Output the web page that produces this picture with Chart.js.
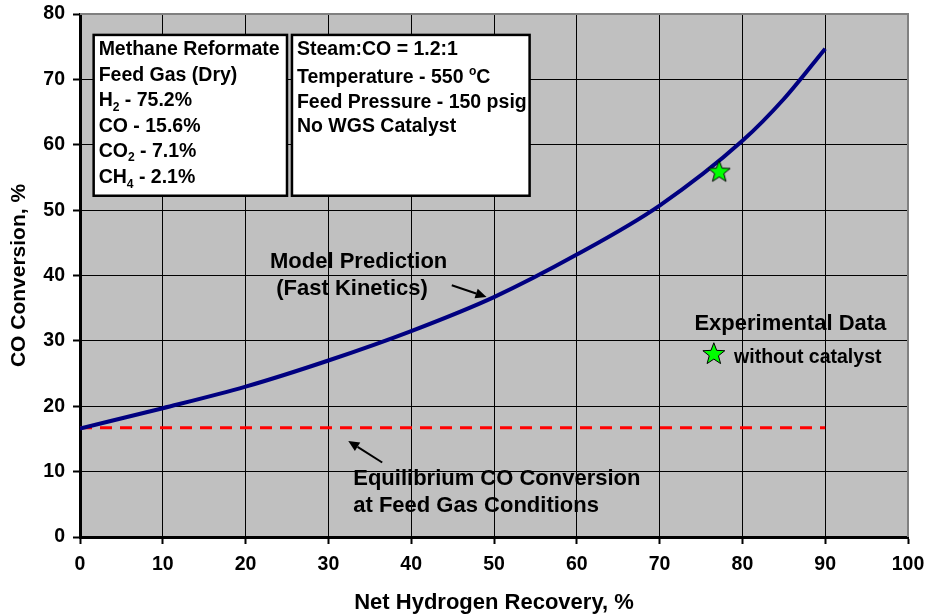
<!DOCTYPE html>
<html>
<head>
<meta charset="utf-8">
<script src="https://cdn.jsdelivr.net/npm/chart.js@4.4.1/dist/chart.umd.min.js"></script>
<style>
  html, body { margin: 0; padding: 0; background: #ffffff; }
  #wrap { width: 927px; height: 616px; }
</style>
</head>
<body>
<div id="wrap"><canvas id="chart" width="927" height="616"></canvas></div>
<script>
// Model prediction (fast kinetics): CO conversion vs net hydrogen recovery
const modelRecovery   = [0, 10, 20, 30, 40, 50, 60, 70, 80, 85, 90];
const modelConversion = [16.6, 19.7, 23.0, 27.0, 31.5, 36.7, 43.2, 50.7, 60.6, 67.0, 74.7];

// Equilibrium CO conversion at feed gas conditions
const equilibriumRecovery   = [0, 90];
const equilibriumConversion = [16.7, 16.7];

// Experimental point, without catalyst
const experimentRecovery   = [77.2];
const experimentConversion = [55.9];

// Axis ticks
const xTicks = [0, 10, 20, 30, 40, 50, 60, 70, 80, 90, 100];
const yTicks = [0, 10, 20, 30, 40, 50, 60, 70, 80];

const FONT = '"Liberation Sans", Arial, Helvetica, sans-serif';

function toPoints(xs, ys) {
  return xs.map((x, i) => ({ x: x, y: ys[i] }));
}

// five-pointed star
function starPath(ctx, cx, cy, R, r) {
  ctx.beginPath();
  for (let i = 0; i < 10; i++) {
    const rad = i % 2 === 0 ? R : r;
    const a = -Math.PI / 2 + i * Math.PI / 5;
    const px = cx + rad * Math.cos(a);
    const py = cy + rad * Math.sin(a);
    if (i === 0) ctx.moveTo(px, py); else ctx.lineTo(px, py);
  }
  ctx.closePath();
}
function drawStar(ctx, cx, cy, R) {
  ctx.save();
  starPath(ctx, cx, cy, R, R * 0.42);
  ctx.fillStyle = '#00ff00';
  ctx.fill();
  ctx.lineWidth = 1;
  ctx.strokeStyle = '#000000';
  ctx.stroke();
  ctx.restore();
}
const STAR_R = 11.5;
const starImg = document.createElement('canvas');
starImg.width = 28; starImg.height = 28;
drawStar(starImg.getContext('2d'), 14, 14.5, STAR_R);

// text with sub/superscript runs
function drawRich(ctx, x, y, parts, size) {
  let cx = x;
  parts.forEach(p => {
    const small = p.sub || p.sup;
    const s = small ? size * 0.62 : size;
    ctx.font = 'bold ' + s + 'px ' + FONT;
    const dy = p.sub ? size * 0.25 : (p.sup ? -size * 0.42 : 0);
    ctx.fillText(p.t, cx, y + dy);
    cx += ctx.measureText(p.t).width;
  });
}

function arrow(ctx, x1, y1, x2, y2) {
  const ang = Math.atan2(y2 - y1, x2 - x1);
  const hl = 11, hw = 5;
  const bx = x2 - hl * Math.cos(ang), by = y2 - hl * Math.sin(ang);
  ctx.save();
  ctx.strokeStyle = '#000';
  ctx.fillStyle = '#000';
  ctx.lineWidth = 2;
  ctx.beginPath();
  ctx.moveTo(x1, y1);
  ctx.lineTo(bx, by);
  ctx.stroke();
  ctx.beginPath();
  ctx.moveTo(x2, y2);
  ctx.lineTo(bx + hw * Math.sin(ang), by - hw * Math.cos(ang));
  ctx.lineTo(bx - hw * Math.sin(ang), by + hw * Math.cos(ang));
  ctx.closePath();
  ctx.fill();
  ctx.restore();
}

const plotDecor = {
  id: 'plotDecor',
  beforeDraw(chart) {
    const { ctx, chartArea: a } = chart;
    ctx.save();
    ctx.fillStyle = '#c0c0c0';
    ctx.fillRect(a.left, a.top, a.right - a.left, a.bottom - a.top);
    ctx.restore();
  },
  afterDraw(chart) {
    const { ctx, chartArea: a, scales } = chart;
    const X = v => scales.x.getPixelForValue(v);
    const Y = v => scales.y.getPixelForValue(v);

    // top and right frame
    ctx.save();
    ctx.strokeStyle = '#808080';
    ctx.lineWidth = 2;
    ctx.beginPath();
    ctx.moveTo(a.left, a.top);
    ctx.lineTo(a.right, a.top);
    ctx.lineTo(a.right, a.bottom);
    ctx.stroke();
    ctx.restore();

    ctx.save();
    ctx.textBaseline = 'alphabetic';
    ctx.textAlign = 'left';
    ctx.fillStyle = '#000';

    // feed gas and operating condition boxes
    const boxes = [
      { x0: 1.65, x1: 25.0, y0: 76.8, y1: 52.2 },
      { x0: 25.6, x1: 54.3, y0: 76.8, y1: 52.2 }
    ];
    boxes.forEach(b => {
      const l = X(b.x0), r = X(b.x1), t = Y(b.y0), btm = Y(b.y1);
      ctx.fillStyle = '#ffffff';
      ctx.fillRect(l, t, r - l, btm - t);
      ctx.strokeStyle = '#000';
      ctx.lineWidth = 2.5;
      ctx.strokeRect(l, t, r - l, btm - t);
    });
    ctx.fillStyle = '#000';

    const boxSize = 19.5;
    const feedLines = [
      { y: 73.75, parts: [{ t: 'Methane Reformate' }] },
      { y: 69.7,  parts: [{ t: 'Feed Gas (Dry)' }] },
      { y: 65.9,  parts: [{ t: 'H' }, { t: '2', sub: true }, { t: ' - 75.2%' }] },
      { y: 62.0,  parts: [{ t: 'CO - 15.6%' }] },
      { y: 58.2,  parts: [{ t: 'CO' }, { t: '2', sub: true }, { t: ' - 7.1%' }] },
      { y: 54.1,  parts: [{ t: 'CH' }, { t: '4', sub: true }, { t: ' - 2.1%' }] }
    ];
    feedLines.forEach(l => drawRich(ctx, X(2.25), Y(l.y), l.parts, boxSize));

    const condLines = [
      { y: 73.75, parts: [{ t: 'Steam:CO = 1.2:1' }] },
      { y: 69.4,  parts: [{ t: 'Temperature - 550 ' }, { t: 'o', sup: true }, { t: 'C' }] },
      { y: 65.6,  parts: [{ t: 'Feed Pressure - 150 psig' }] },
      { y: 62.0,  parts: [{ t: 'No WGS Catalyst' }] }
    ];
    condLines.forEach(l => drawRich(ctx, X(26.2), Y(l.y), l.parts, boxSize));

    // model label
    ctx.font = 'bold 22px ' + FONT;
    ctx.fillText('Model Prediction', X(22.95), Y(41.2));
    ctx.fillText('(Fast Kinetics)', X(23.7), Y(37.0));
    arrow(ctx, X(44.9), Y(38.5), X(49.1), Y(36.7));

    // equilibrium label
    ctx.fillText('Equilibrium CO Conversion', X(33.0), Y(7.9));
    ctx.fillText('at Feed Gas Conditions', X(33.0), Y(3.8));
    arrow(ctx, X(36.5), Y(11.4), X(32.4), Y(14.7));

    // experimental key
    ctx.fillText('Experimental Data', X(74.2), Y(31.6));
    drawStar(ctx, X(76.55), Y(27.95), STAR_R);
    ctx.font = 'bold 19.5px ' + FONT;
    ctx.fillText('without catalyst', X(79.0), Y(26.6));

    ctx.restore();
  }
};

const edgeColor = (edge) => (c) => (c.tick && c.tick.value === edge ? 'rgba(0,0,0,0)' : '#000000');

new Chart(document.getElementById('chart'), {
  type: 'scatter',
  data: {
    datasets: [
      {
        label: 'Experimental Data',
        data: toPoints(experimentRecovery, experimentConversion),
        pointStyle: starImg,
        pointRadius: 12,
        showLine: false,
        order: 0
      },
      {
        label: 'Model Prediction (Fast Kinetics)',
        data: toPoints(modelRecovery, modelConversion),
        showLine: true,
        borderColor: '#000080',
        borderWidth: 4,
        pointRadius: 0,
        cubicInterpolationMode: 'monotone',
        order: 1
      },
      {
        label: 'Equilibrium CO Conversion',
        data: toPoints(equilibriumRecovery, equilibriumConversion),
        showLine: true,
        borderColor: '#ff0000',
        borderWidth: 3,
        borderDash: [12, 8],
        pointRadius: 0,
        order: 2
      }
    ]
  },
  options: {
    responsive: false,
    animation: false,
    events: [],
    layout: { padding: { left: 0, right: 19, top: 14, bottom: 0 } },
    plugins: {
      legend: { display: false },
      tooltip: { enabled: false }
    },
    scales: {
      x: {
        type: 'linear',
        min: xTicks[0],
        max: xTicks[xTicks.length - 1],
        afterBuildTicks: s => { s.ticks = xTicks.map(v => ({ value: v })); },
        afterFit: s => { s.height = 79; s.paddingRight = 0; s.paddingLeft = 0; },
        ticks: {
          color: '#000',
          font: { family: FONT, size: 19.5, weight: 'bold' },
          padding: 9,
          maxRotation: 0
        },
        grid: {
          color: edgeColor(100),
          lineWidth: 1,
          tickColor: '#000',
          tickWidth: 2,
          tickLength: 7
        },
        border: { color: '#000', width: 3 },
        title: {
          display: true,
          text: 'Net Hydrogen Recovery, %',
          color: '#000',
          font: { family: FONT, size: 22, weight: 'bold' },
          padding: { top: 0, bottom: 0 }
        }
      },
      y: {
        type: 'linear',
        min: yTicks[0],
        max: yTicks[yTicks.length - 1],
        afterBuildTicks: s => { s.ticks = yTicks.map(v => ({ value: v })); },
        afterFit: s => { s.width = 80; s.paddingTop = 0; s.paddingBottom = 0; },
        ticks: {
          color: '#000',
          font: { family: FONT, size: 19.5, weight: 'bold' },
          padding: 8
        },
        grid: {
          color: edgeColor(80),
          lineWidth: 1,
          tickColor: '#000',
          tickWidth: 2,
          tickLength: 7
        },
        border: { color: '#000', width: 3 },
        title: {
          display: true,
          text: 'CO Conversion, %',
          color: '#000',
          font: { family: FONT, size: 21, weight: 'bold' },
          padding: { top: 7, bottom: 0 }
        }
      }
    }
  },
  plugins: [plotDecor]
});
</script>
</body>
</html>
